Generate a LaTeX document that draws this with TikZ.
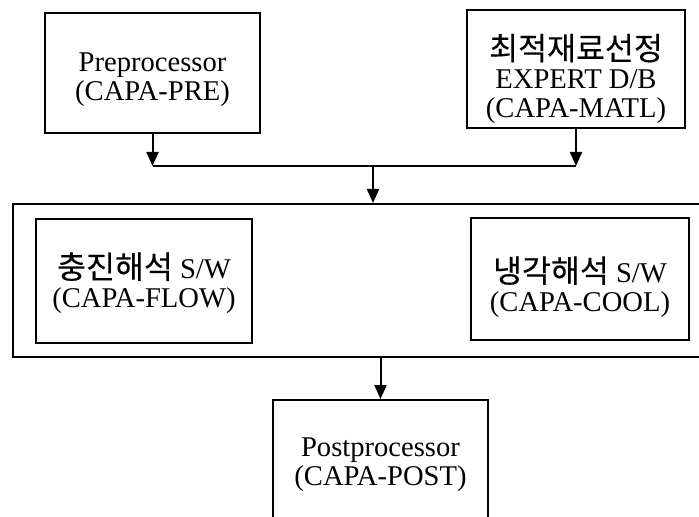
\documentclass[tikz,border=0pt]{standalone}
\usepackage{fontspec}
\setmainfont{Liberation Serif}
\newfontfamily\capaKor[Scale=1.1,FakeBold=0.3]{Noto Sans CJK KR}
\usetikzlibrary{arrows.meta,positioning}
\tikzset{
  capabox/.style={draw,line width=1pt,inner sep=0pt},
  capatext/.style={align=center,inner sep=0pt,
    font=\fontsize{14.3}{14.5}\selectfont},
  capaflow/.style={-{Triangle[length=7pt,width=6pt]},line width=1pt}
}

\begin{document}
\begin{tikzpicture}[x=0.5pt,y=-0.5pt]
        \useasboundingbox (0,0) rectangle (699,517);
        \clip (0,0) rectangle (699,517);

        \node[capabox,minimum width=107.5pt,minimum height=60pt]
          (pre) at (152.5,73) {};
        \node[capatext] (pretext) at ([yshift=-3.5pt]pre.center)
          {Preprocessor\\(CAPA-PRE)};
        \node[capabox,minimum width=109pt,minimum height=59pt]
          (matl) at (576,69) {};
        \node[capatext] (matltext) at ([yshift=-5pt]matl.center)
          {{\capaKor 최적재료선정}\\EXPERT D/B\\(CAPA-MATL)};

        \node[capabox,minimum width=348.5pt,minimum height=76.5pt]
          (solver) at (361.5,280.5) {};
        \node[capabox,minimum width=108pt,minimum height=62pt]
          (flow) at (144,281) {};
        \node[capatext] (flowtext) at ([yshift=-1pt]flow.center)
          {{\capaKor 충진해석} S/W\\(CAPA-FLOW)};
        \node[capabox,minimum width=109pt,minimum height=61pt]
          (cool) at (580,279) {};
        \node[capatext] (cooltext) at ([yshift=-4pt]cool.center)
          {{\capaKor 냉각해석} S/W\\(CAPA-COOL)};

        \node[capabox,minimum width=107.5pt,minimum height=63pt]
          (post) at (380.5,463) {};
        \node[capatext] (posttext) at ([yshift=-1pt]post.center)
          {Postprocessor\\(CAPA-POST)};

        \coordinate (bus) at (373,166);
        \draw[line width=1pt] (pre.south |- bus) -- (matl.south |- bus);
        \draw[capaflow] (pre.south) -- (pre.south |- bus);
        \draw[capaflow] (matl.south) -- (matl.south |- bus);
        \draw[capaflow] (bus) -- (bus |- solver.north);
        \draw[capaflow] (post.north |- solver.south) -- (post.north);
      \end{tikzpicture}
\end{document}
